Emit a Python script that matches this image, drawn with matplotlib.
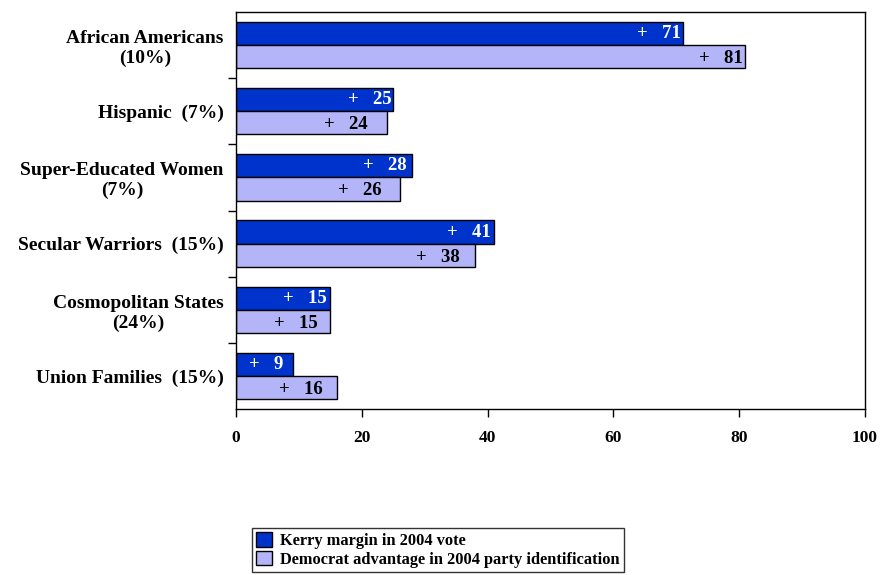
import matplotlib
matplotlib.use("Agg")
import matplotlib.pyplot as plt
from matplotlib.ticker import FixedLocator
import numpy as np

plt.rcParams['font.family'] = ['Liberation Serif', 'DejaVu Serif']
plt.rcParams['font.weight'] = 'bold'

# Groups, listed top to bottom
groups = [
    "African Americans\n(10%)",
    "Hispanic  (7%)",
    "Super-Educated Women\n(7%)",
    "Secular Warriors  (15%)",
    "Cosmopolitan States\n(24%)",
    "Union Families  (15%)",
]
kerry_margin = [71, 25, 28, 41, 15, 9]
dem_advantage = [81, 24, 26, 38, 15, 16]
series_names = ["Kerry margin in 2004 vote",
                "Democrat advantage in 2004 party identification"]
x_ticks = [0, 20, 40, 60, 80, 100]

# How far each value label sits in from its bar end (data units)
kerry_label_inset = [0.3, 0.2, 0.8, 0.5, 0.5, 1.5]
dem_label_inset = [0.4, 3.0, 2.8, 2.5, 2.0, 2.2]

dark = "#0033CC"
light = "#B4B4F8"

fig = plt.figure(figsize=(8.81, 5.75), dpi=100)
ax = fig.add_axes([236 / 881, 1 - 409 / 575, (865 - 236) / 881, (409 - 12) / 575])

n = len(groups)
y = np.arange(n)
h = 0.35
b1 = ax.barh(y - h / 2, kerry_margin, height=h, color=dark, edgecolor="black",
             linewidth=1.0, label=series_names[0])
b2 = ax.barh(y + h / 2, dem_advantage, height=h, color=light, edgecolor="black",
             linewidth=1.0, label=series_names[1])

for i in range(n):
    ax.text(kerry_margin[i] - kerry_label_inset[i], y[i] - h / 2, f"+   {kerry_margin[i]}",
            ha="right", va="center", color="white", fontsize=13.5, fontweight="bold")
    ax.text(dem_advantage[i] - dem_label_inset[i], y[i] + h / 2 + 0.03, f"+   {dem_advantage[i]}",
            ha="right", va="center", color="black", fontsize=13.5, fontweight="bold")

ax.set_xlim(0, 100)
ax.set_ylim(n - 0.5, -0.5)
ax.set_xticks(x_ticks)
ax.set_xticklabels([str(t) for t in x_ticks], fontsize=12.5, fontweight="bold")
ax.tick_params(axis="x", direction="out", length=6, width=1, pad=9)

ax.set_yticks(y)
ax.set_yticklabels(groups, fontsize=14, fontweight="bold", multialignment="center")
ax.tick_params(axis="y", which="major", length=0, pad=9)
ax.yaxis.set_minor_locator(FixedLocator(np.arange(0.5, n - 0.5, 1.0)))
ax.tick_params(axis="y", which="minor", direction="out", length=6, width=1)

for s in ax.spines.values():
    s.set_linewidth(1.0)
    s.set_color("black")

leg = fig.legend(handles=[b1, b2], labels=series_names, loc="center",
                 bbox_to_anchor=(438 / 881, 1 - 550 / 575), frameon=True,
                 fancybox=False, edgecolor="black", fontsize=11.8,
                 handlelength=1.0, handleheight=1.0, handletextpad=0.5,
                 borderpad=0.25, labelspacing=0.08, borderaxespad=0)
leg.get_frame().set_linewidth(1.0)
for t in leg.get_texts():
    t.set_fontweight("bold")

fig.savefig("out.png", dpi=100)
